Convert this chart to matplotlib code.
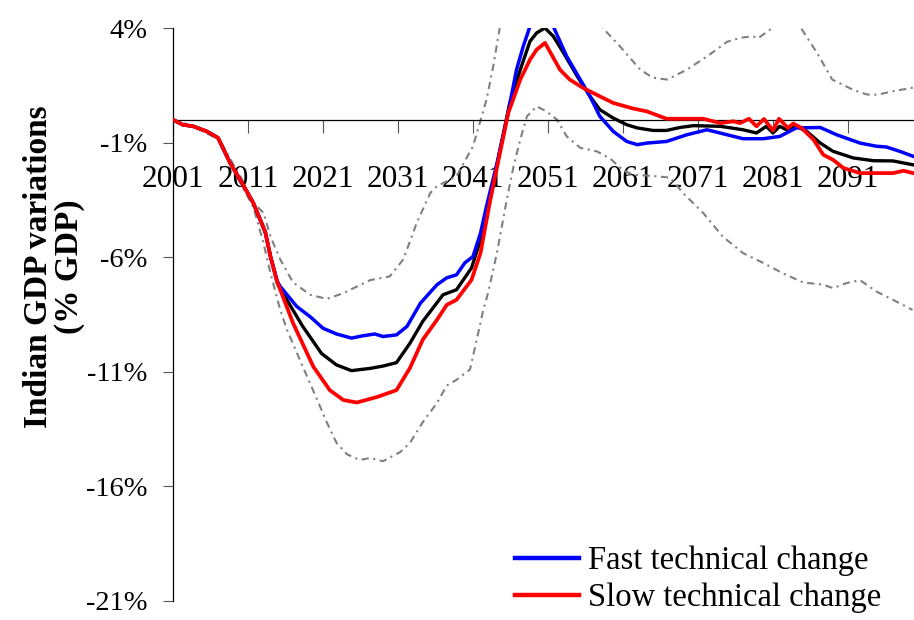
import matplotlib
matplotlib.use("Agg")
import matplotlib.pyplot as plt

plt.rcParams['font.family'] = ['Liberation Serif', 'DejaVu Serif']

# ---------------- data ----------------
fast_years = [2001, 2002.3, 2003.7, 2005.5, 2007, 2008.6, 2010.2, 2011.7, 2013.3, 2014, 2014.9,
              2015.3, 2017.5, 2019.3, 2021, 2022.8, 2024.8, 2026.3, 2027.9, 2029, 2030.8,
              2032.2, 2034, 2036.2, 2037.5, 2038.8, 2039.9, 2041, 2042, 2042.8, 2044.2,
              2045.5, 2046.8, 2047.7, 2048.6, 2050.2, 2051.7, 2053.5, 2055.3, 2056.6, 2057.9,
              2059.7, 2061.5, 2062.9, 2064.2, 2066.8, 2069.5, 2072.2, 2074.9, 2077, 2079.7,
              2081.9, 2084.1, 2087.3, 2089.5, 2092.6, 2094.8, 2096.1, 2097.9, 2099.7]
fast_vals = [0, -0.22, -0.29, -0.51, -0.79, -1.88, -2.76, -3.63, -4.9, -5.97, -7.05,
             -7.28, -8.15, -8.6, -9.1, -9.35, -9.53, -9.43, -9.35, -9.46, -9.39,
             -9.02, -8.0, -7.2, -6.9, -6.77, -6.25, -5.97, -4.95, -3.78, -1.9,
             0.0, 2.18, 3.2, 4.07, 5.3, 4.07, 2.76, 1.75, 1.02, 0.15,
             -0.51, -0.95, -1.09, -1.02, -0.95, -0.66, -0.44, -0.66, -0.83, -0.83,
             -0.73, -0.36, -0.34, -0.66, -1.02, -1.16, -1.19, -1.38, -1.6]

central_years = [2001, 2002.3, 2003.7, 2005.5, 2007, 2008.6, 2010.2, 2011.7, 2013.3, 2014, 2014.9,
                 2015.7, 2018.3, 2020.8, 2022.8, 2024.8, 2027.3, 2029, 2030.8, 2032.6, 2034.3,
                 2037, 2038.8, 2040.8, 2042, 2043.3, 2044.6, 2045.9, 2047.3, 2048.6, 2049.5,
                 2050.6, 2051.7, 2053.1, 2054.9, 2056.6, 2057.9, 2059.7, 2061.5, 2062.9, 2065,
                 2066.8, 2068.6, 2070.4, 2074, 2077, 2078.8, 2080.1, 2081, 2081.9, 2082.8,
                 2084.1, 2085.5, 2087.3, 2089, 2091.7, 2094.4, 2097, 2099.7]
central_vals = [0, -0.22, -0.29, -0.51, -0.79, -1.88, -2.76, -3.63, -4.9, -5.97, -7.1,
                -7.6, -9.02, -10.2, -10.7, -10.95, -10.85, -10.75, -10.6, -9.75, -8.8,
                -7.64, -7.42, -6.47, -5.24, -3.5, -1.31, 0.73, 2.18, 3.42, 3.79,
                4.0, 3.64, 2.9, 1.89, 1.02, 0.44, 0.07, -0.22, -0.36, -0.47,
                -0.47, -0.34, -0.26, -0.29, -0.44, -0.58, -0.29, -0.58, -0.29, -0.44,
                -0.29, -0.51, -1.02, -1.38, -1.67, -1.79, -1.8, -1.97]

slow_years = [2001, 2002.3, 2003.7, 2005.5, 2007, 2008.6, 2010.2, 2011.7, 2013.3, 2014, 2014.9,
              2015.3, 2017, 2019.7, 2021.9, 2023.7, 2025.5, 2028.2, 2030.8, 2032.6, 2034.3,
              2036.2, 2037.5, 2038.8, 2040.8, 2042, 2043.3, 2044.6, 2045.7, 2047.3, 2048.6,
              2049.5, 2050.6, 2052.6, 2053.9, 2055.7, 2057.9, 2059.7, 2062.3, 2064.2, 2066.8,
              2069.5, 2071.7, 2074, 2075.7, 2076.6, 2077.8, 2078.8, 2079.8, 2081, 2081.8,
              2083, 2083.7, 2084.8, 2086.4, 2087.7, 2089, 2090.4, 2092.6, 2095.3, 2097,
              2098.4, 2099.7]
slow_vals = [0, -0.22, -0.29, -0.51, -0.79, -1.88, -2.76, -3.63, -4.9, -5.97, -7.1,
             -7.42, -8.87, -10.77, -11.8, -12.23, -12.34, -12.1, -11.8, -10.83, -9.6,
             -8.73, -8.08, -7.86, -6.99, -5.82, -3.5, -1.45, 0.29, 1.75, 2.62,
             3.06, 3.35, 2.18, 1.75, 1.38, 1.02, 0.73, 0.49, 0.36, 0.04,
             0.04, 0.04, -0.15, -0.07, -0.15, 0.04, -0.29, 0.03, -0.47, 0.04,
             -0.36, -0.17, -0.36, -0.87, -1.53, -1.75, -2.11, -2.33, -2.33, -2.33,
             -2.23, -2.33]

upper_years = [2001, 2003.7, 2007, 2008.6, 2010.2, 2011.3, 2013.1, 2014, 2015.3, 2017, 2019.3,
               2021.5, 2023.7, 2027.3, 2029.9, 2031.7, 2033.5, 2035.3, 2036.2, 2038.8, 2041,
               2042.8, 2043.7, 2044.6, 2046, 2048, 2050, 2053, 2056, 2058.3, 2060.6,
               2063.3, 2065, 2066.9, 2069.5, 2072.2, 2074.9, 2076.6, 2078.3, 2079, 2080.6,
               2082.5, 2084, 2085, 2086.9, 2088.9, 2091.7, 2093.5, 2094.9, 2097, 2099.7]
upper_vals = [0, -0.29, -0.75, -1.7, -2.6, -3.5, -4.07, -5.1, -6.1, -7.1, -7.64,
              -7.82, -7.57, -7.0, -6.84, -6.1, -4.5, -3.2, -2.9, -2.47, -1.16,
              0.87, 2.33, 4.07, 6.5, 8.0, 8.5, 7.5, 5.5, 4.0, 3.2,
              2.18, 1.83, 1.75, 2.18, 2.76, 3.4, 3.57, 3.64, 3.55, 3.93,
              4.5, 4.4, 3.86, 2.9, 1.75, 1.3, 1.1, 1.09, 1.24, 1.4]

lower_years = [2001, 2003.7, 2007, 2008.6, 2010.2, 2011.7, 2013, 2014, 2015.3, 2016.2, 2018.3,
               2020.2, 2021.5, 2022.8, 2024.2, 2025.9, 2027.3, 2029, 2031.3, 2032.6, 2034.3,
               2036.2, 2037.5, 2038.8, 2040.6, 2041.5, 2042.3, 2043, 2044.2, 2045.5, 2046.4,
               2047.3, 2048.2, 2049.5, 2050.8, 2052.2, 2053.5, 2055.3, 2057.5, 2059.3, 2061,
               2062.3, 2065.5, 2067.3, 2069, 2071.7, 2074.3, 2077, 2079.7, 2082.3, 2085,
               2087.7, 2089, 2090.8, 2092.6, 2094.8, 2097, 2099.6]
lower_vals = [0, -0.29, -0.85, -1.95, -2.9, -3.8, -5.3, -6.7, -8.3, -9.17, -10.77,
              -12.2, -13.2, -14.1, -14.6, -14.85, -14.76, -14.9, -14.5, -14.1, -13.2,
              -12.36, -11.6, -11.35, -10.9, -9.6, -8.4, -7.57, -5.8, -3.5, -2.05,
              -0.87, 0.15, 0.58, 0.36, 0.0, -0.73, -1.23, -1.38, -1.7, -2.2,
              -2.4, -2.47, -2.53, -3.2, -4.07, -5.1, -5.82, -6.25, -6.7, -7.1,
              -7.2, -7.35, -7.13, -7.0, -7.5, -7.86, -8.3]

x_ticks = [2001, 2011, 2021, 2031, 2041, 2051, 2061, 2071, 2081, 2091]
x_labels = ["2001", "2011", "2021", "2031", "2041", "2051", "2061", "2071", "2081", "2091"]
y_ticks = [4, -1, -6, -11, -16, -21]
y_labels = ["4%", "-1%", "-6%", "-11%", "-16%", "-21%"]
legend_labels = ["Fast technical change", "Slow technical change"]
y_title = "Indian GDP variations\n(% GDP)"

# ---------------- figure ----------------
W, H = 914, 620
fig = plt.figure(figsize=(W / 100, H / 100), dpi=100)
ax = fig.add_axes([173 / W, 1 - 601 / H, (W - 173) / W, (601 - 28) / H])

dash = (0, (3.5, 2.2, 1.0, 2.2))
ax.plot(upper_years, upper_vals, color="#808080", lw=1.5, linestyle=dash, zorder=2)
ax.plot(lower_years, lower_vals, color="#808080", lw=1.5, linestyle=dash, zorder=2)
ax.plot(central_years, central_vals, color="black", lw=2.4, zorder=3)
l_fast, = ax.plot(fast_years, fast_vals, color="#0000FF", lw=2.5, zorder=4,
                  solid_joinstyle="round")
l_slow, = ax.plot(slow_years, slow_vals, color="#FF0000", lw=2.7, zorder=5,
                  solid_joinstyle="round")

ax.set_xlim(2001, 2099.8)
ax.set_ylim(-21, 4)

for s in ("top", "right"):
    ax.spines[s].set_visible(False)
ax.spines["bottom"].set_position(("data", 0))
ax.spines["bottom"].set_linewidth(0.9)
ax.spines["left"].set_linewidth(0.9)

ax.set_xticks(x_ticks)
ax.set_xticklabels(x_labels)
ax.set_yticks(y_ticks)
ax.set_yticklabels(y_labels)
ax.tick_params(axis="x", direction="out", length=9.4, width=0.8, pad=23,
               labelsize=22.5, colors="black")
ax.tick_params(axis="y", direction="out", length=7.2, width=0.8, pad=11,
               labelsize=20.5, colors="black")
ax.tick_params(axis="x", color="#555555")
ax.tick_params(axis="y", color="#555555")

fig.text(54 / W, 1 - 267 / H, y_title, rotation=90, ha="center", va="center",
         fontsize=24, fontweight="bold", linespacing=0.98, multialignment="center")

leg = ax.legend([l_fast, l_slow], legend_labels, loc="center left",
                bbox_to_anchor=(515 / W, 1 - 579.5 / H), bbox_transform=fig.transFigure,
                frameon=False, fontsize=23.5, handlelength=1.95, handletextpad=0.3,
                borderpad=0, borderaxespad=0, labelspacing=0.2)
for h in leg.legend_handles:
    h.set_linewidth(3.2)

fig.savefig("out.png", dpi=100)
